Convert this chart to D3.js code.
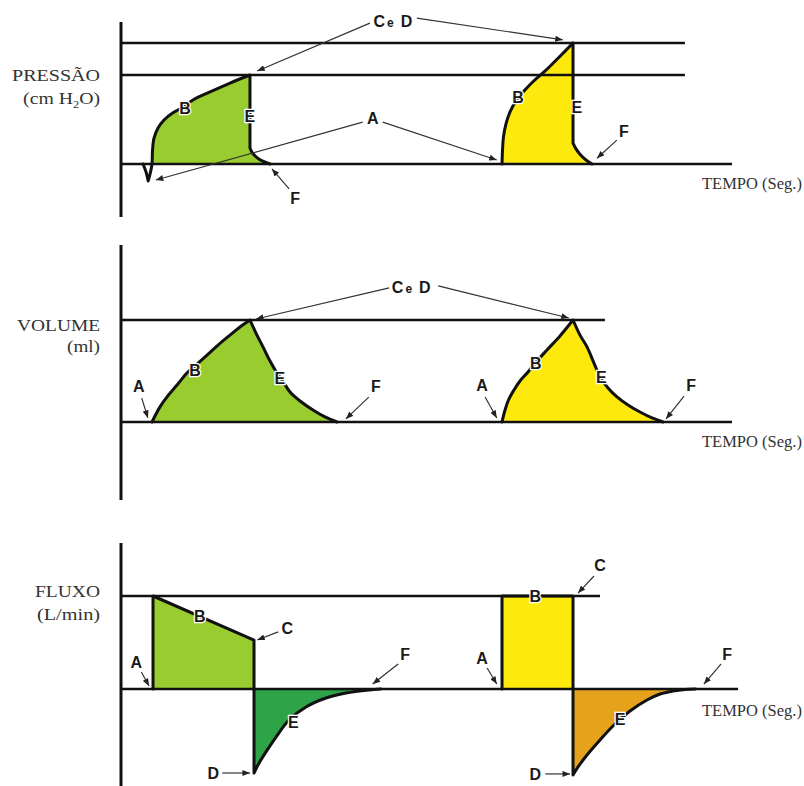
<!DOCTYPE html>
<html><head><meta charset="utf-8">
<script src="https://cdn.jsdelivr.net/npm/d3@7"></script>
<style>body{margin:0;background:#fff}svg{display:block}</style>
</head><body><svg id="chart" width="804" height="786"></svg>
<script>
// ---------------- DATA (time in arbitrary units 0..100) ----------------
// Pressure (cm H2O): cycle 1 (green, assisted) and cycle 2 (yellow)
const pressureCycle1 = [[3.6,0],[4.1,-1.8],[4.45,-3.8],[4.8,-2.0],[5.07,0],[5.16,3.1],[5.4,5.8],[6.06,8.1],[7.04,9.9],[8.51,11.5],[10.15,12.8],[11.78,14.4],[14.57,16.2],[17.84,18.2],[21.11,20],[21.11,3.6],[21.5,2.5],[22.2,1.5],[23.1,0.7],[24.4,0]];
const pressureCycle2 = [[62.36,0],[62.44,3.1],[62.6,6.1],[63.01,9.0],[63.67,11.7],[64.65,14.2],[65.96,16.4],[67.59,18.7],[69.56,21.1],[71.69,24.0],[73.98,27.2],[73.98,4.7],[74.47,3.4],[75.12,2.2],[76.1,0.9],[77.09,0]];
const pressureLevels = [20, 27.2];

// Volume (ml)
const volumeCycle1 = [[5.07,0],[6.38,74],[7.53,123],[9.17,181],[10.8,240],[12.44,284],[14.08,328],[15.88,377],[17.84,426],[19.48,466],[21.11,500],[22.09,436],[23.24,368],[24.39,299],[25.53,240],[26.68,191],[27.66,147],[29.3,103],[31.42,59],[33.39,25],[35.35,0]];
const volumeCycle2 = [[62.36,0],[62.85,59],[63.5,113],[64.32,157],[65.3,201],[66.61,245],[68.09,299],[69.72,353],[71.85,422],[73.98,500],[75.12,426],[76.27,368],[77.41,289],[78.4,221],[79.71,167],[81.18,123],[82.98,83],[84.94,49],[86.91,20],[88.71,0]];
const volumeLevel = 500;

// Flow (L/min): inspiratory (positive) and expiratory (negative) parts
const flowInsp1 = [[5.24,0],[5.24,60],[21.77,31.6],[21.77,0]];
const flowExp1 = [[21.77,0],[21.77,-54.2],[22.42,-49.0],[23.73,-40.6],[25.37,-31.0],[27.5,-20.0],[30.28,-11.6],[33.55,-5.8],[36.82,-2.6],[40.59,-0.6],[42.5,0]];
const flowInsp2 = [[62.36,0],[62.36,60],[73.98,60],[73.98,0]];
const flowExp2 = [[73.98,0],[73.98,-55.5],[74.8,-50.3],[76.27,-42.6],[78.4,-32.9],[80.52,-23.9],[83.31,-14.2],[86.09,-7.1],[88.22,-3.2],[90.34,-1.3],[92.3,-0.3],[94,0]];
const flowLevel = 60;

// Texts
const pressureTitle = ["PRESSÃO", "(cm H₂O)"];
const volumeTitle = ["VOLUME", "(ml)"];
const flowTitle = ["FLUXO", "(L/min)"];
const timeTitle = "TEMPO (Seg.)";

// Annotations (label point in data units, arrow tips in data units)
const pressureNotes = [
  {label:"CeD", t:44.5, v:32.1, arrows:[{from:[-23,2], to:[22.3,20.9]},{from:[24,-3], to:[72.3,27.9]}]},
  {label:"A", t:41.2, v:10.3, arrows:[{from:[-10,4], to:[5.7,-3.6]},{from:[10,4], to:[61.5,0.9]}]},
  {label:"B", t:10.5, v:12.6}, {label:"E", t:21.1, v:10.8},
  {label:"F", t:28.5, v:-7.6, arrows:[{from:[-6,-9], to:[24.7,-1.1]}]},
  {label:"B", t:65.0, v:15.1}, {label:"E", t:74.6, v:12.8},
  {label:"F", t:82.3, v:7.4, arrows:[{from:[-7,9], to:[77.9,1.3]}]}
];
const volumeNotes = [
  {label:"CeD", t:47.5, v:662, arrows:[{from:[-22,1], to:[22.1,505]},{from:[27,-1], to:[73.3,510]}]},
  {label:"A", t:2.9, v:176, arrows:[{from:[3,12], to:[4.4,20]}]},
  {label:"B", t:12.1, v:255}, {label:"E", t:26.0, v:216},
  {label:"F", t:41.7, v:176, arrows:[{from:[-7,11], to:[36.8,15]}]},
  {label:"A", t:59.1, v:181, arrows:[{from:[3,12], to:[61.5,20]}]},
  {label:"B", t:67.9, v:289}, {label:"E", t:78.6, v:221},
  {label:"F", t:93.3, v:181, arrows:[{from:[-7,11], to:[89.2,15]}]}
];
const flowNotes = [
  {label:"A", t:2.5, v:17.4, arrows:[{from:[5,10], to:[4.6,1.9]}]},
  {label:"B", t:12.9, v:47.1},
  {label:"C", t:27.2, v:39.4, arrows:[{from:[-9,4], to:[22.3,31.6]}]},
  {label:"E", t:28.2, v:-21.3},
  {label:"D", t:15.1, v:-54.2, arrows:[{from:[9,0], to:[21.1,-54.2]}]},
  {label:"F", t:46.5, v:22.6, arrows:[{from:[-7,10], to:[41.2,3.2]}]},
  {label:"A", t:59.1, v:20, arrows:[{from:[5,10], to:[61.5,3.2]}]},
  {label:"B", t:67.8, v:60},
  {label:"C", t:78.4, v:80, arrows:[{from:[-6,11], to:[74.8,61.9]}]},
  {label:"E", t:81.7, v:-19.4},
  {label:"D", t:67.8, v:-54.8, arrows:[{from:[10,0], to:[73.5,-54.8]}]},
  {label:"F", t:99.2, v:22.6, arrows:[{from:[-6,10], to:[95.4,3.2]}]}
];

// ---------------- LAYOUT / STYLE ----------------
const GREEN = "#99cc2e", YELLOW = "#fdea0c", DKGREEN = "#2fa347", ORANGE = "#e6a21a", INK = "#111";
const svg = d3.select("#chart");
svg.append("rect").attr("width",804).attr("height",786).attr("fill","#fff");

const defs = svg.append("defs");
defs.append("marker").attr("id","ah").attr("viewBox","0 0 10 8").attr("refX",10).attr("refY",4)
  .attr("markerWidth",8).attr("markerHeight",6).attr("markerUnits","userSpaceOnUse").attr("orient","auto")
  .append("path").attr("d","M0,0 L10,4 L0,8 Z").attr("fill","#222");

const x = d3.scaleLinear().domain([0,100]).range([121,732]);

const panels = [
  { y: d3.scaleLinear().domain([0,20]).range([164,75]), axis:[22,217],
    levels: pressureLevels.map(v => ({v, t1:92.3})), baseEnd:100,
    series:[{data:pressureCycle1, fill:GREEN},{data:pressureCycle2, fill:YELLOW}],
    title: pressureTitle, titleY:[81,104], titleW:[88,77], timeY:189, notes: pressureNotes },
  { y: d3.scaleLinear().domain([0,500]).range([422,320]), axis:[245,500],
    levels: [{v:volumeLevel, t1:79.2}], baseEnd:100,
    series:[{data:volumeCycle1, fill:GREEN},{data:volumeCycle2, fill:YELLOW}],
    title: volumeTitle, titleY:[331,352], titleW:[83,33], timeY:447, notes: volumeNotes },
  { y: d3.scaleLinear().domain([0,60]).range([689,596]), axis:[543,786],
    levels: [{v:flowLevel, t1:78.4}], baseEnd:101,
    series:[{data:flowInsp1, fill:GREEN},{data:flowExp1, fill:DKGREEN},{data:flowInsp2, fill:YELLOW},{data:flowExp2, fill:ORANGE}],
    title: flowTitle, titleY:[597,620], titleW:[65,63], timeY:716, notes: flowNotes }
];

function scaledText(parent, anchorX, baseY, targetW, anchor, build, size) {
  const g = parent.append("g");
  const t = g.append("text").attr("font-family","Liberation Serif, Times New Roman, serif")
    .attr("font-size", size).attr("fill","#333").attr("text-anchor", anchor);
  build(t);
  const w = t.node().getBBox().width || 1;
  g.attr("transform", `translate(${anchorX},${baseY}) scale(${targetW/w},1)`);
}

// split a series at corners (vertical edges and extrema) so the smooth curve keeps them sharp
function pieces(data) {
  const idx = [0];
  for (let i = 1; i < data.length - 1; i++) {
    const a = data[i-1], b = data[i], c = data[i+1];
    if (a[0] === b[0] || b[0] === c[0] || (b[1]-a[1])*(c[1]-b[1]) < 0) idx.push(i);
  }
  idx.push(data.length - 1);
  const out = [];
  for (let k = 0; k < idx.length - 1; k++) out.push(data.slice(idx[k], idx[k+1] + 1));
  return out;
}

panels.forEach(p => {
  const g = svg.append("g");
  const y = p.y;
  const line = d3.line().x(d => x(d[0])).y(d => y(d[1])).curve(d3.curveCatmullRom.alpha(0.5));
  const pathOf = data => pieces(data).map((pc, k) => { const s = line(pc); return k ? s.replace(/^M/, "L") : s; }).join("");
  // fills
  p.series.forEach(s => {
    let d = s.data;
    if (d.some(q => q[1] < 0) && d.some(q => q[1] > 0)) {
      const i0 = d.findIndex((q, i) => q[1] === 0 && i + 1 < d.length && d[i+1][1] > 0);
      d = d.slice(i0);
    }
    g.append("path").attr("d", pathOf(d) + "Z").attr("fill", s.fill);
  });
  // reference levels
  p.levels.forEach(l => {
    g.append("line").attr("x1", x(0)).attr("x2", x(l.t1)).attr("y1", y(l.v)).attr("y2", y(l.v))
      .attr("stroke", INK).attr("stroke-width", 2.5);
  });
  // baseline
  g.append("line").attr("x1", x(0)).attr("x2", x(p.baseEnd)).attr("y1", y(0)).attr("y2", y(0))
    .attr("stroke", INK).attr("stroke-width", 2.5);
  // vertical axis
  g.append("line").attr("x1", x(0)).attr("x2", x(0)).attr("y1", p.axis[0]).attr("y2", p.axis[1])
    .attr("stroke", INK).attr("stroke-width", 3);
  // curves
  p.series.forEach(s => {
    g.append("path").attr("d", pathOf(s.data)).attr("fill","none").attr("stroke", INK)
      .attr("stroke-width", 3).attr("stroke-linejoin","round").attr("stroke-linecap","round");
  });
  // titles
  scaledText(g, 100, p.titleY[0], p.titleW[0], "end", t => t.text(p.title[0]), 16);
  scaledText(g, 100, p.titleY[1], p.titleW[1], "end", t => {
    const s = p.title[1];
    if (s.includes("₂")) {
      const [a, b] = s.split("₂");
      t.append("tspan").text(a);
      t.append("tspan").attr("font-size", 10).attr("dy", 4).text("2");
      t.append("tspan").attr("dy", -4).text(b);
    } else t.text(s);
  }, 16);
  scaledText(g, 702, p.timeY, 100, "start", t => t.text(timeTitle), 16);
  // annotations
  p.notes.forEach(n => {
    const cx = x(n.t), cy = y(n.v);
    (n.arrows || []).forEach(a => {
      g.append("line").attr("x1", cx + a.from[0]).attr("y1", cy + a.from[1])
        .attr("x2", x(a.to[0])).attr("y2", y(a.to[1]))
        .attr("stroke", "#333").attr("stroke-width", 1.2).attr("marker-end", "url(#ah)");
    });
    const t = g.append("text").attr("x", cx).attr("y", cy + 6).attr("text-anchor","middle")
      .attr("font-family","Liberation Sans, Arial, sans-serif").attr("font-weight","bold")
      .attr("font-size", 16).attr("fill", "#1a1a1a")
      .attr("stroke", "#fff").attr("stroke-width", 2.5).attr("paint-order","stroke");
    if (n.label === "CeD") {
      t.append("tspan").text("C");
      t.append("tspan").attr("font-size", 12).attr("dx", 2).text("e");
      t.append("tspan").attr("dx", 7).text("D");
    } else t.text(n.label);
  });
});
</script></body></html>
